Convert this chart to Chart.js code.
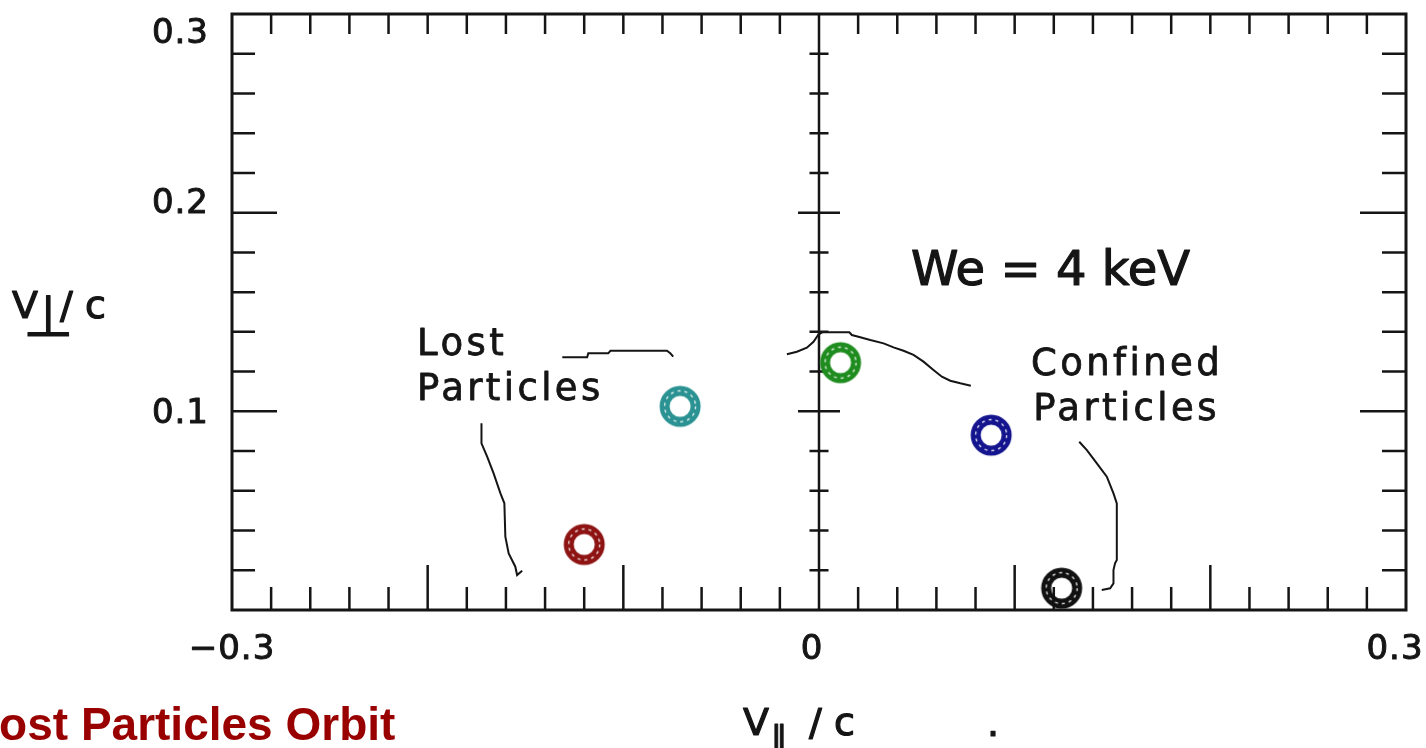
<!DOCTYPE html>
<html>
<head>
<meta charset="utf-8">
<title>Lost Particles Orbit</title>
<script src="https://cdn.jsdelivr.net/npm/chart.js@4.4.1/dist/chart.umd.min.js"></script>
<style>
  html, body { margin: 0; padding: 0; background: #ffffff; }
  #wrap { width: 1426px; height: 748px; position: relative; }
</style>
</head>
<body>
<div id="wrap"><canvas id="chart"></canvas></div>
<script>
// Particle starting points in velocity space (v_parallel / c, v_perp / c)
const particleNames  = ['Lost 1', 'Lost 2', 'Confined 1', 'Confined 2', 'Confined 3'];
const vParallel      = [-0.120, -0.071, 0.011, 0.088, 0.124];
const vPerp          = [0.033, 0.1025, 0.1245, 0.088, 0.011];
const particleColors = ['#8e1414', '#2a9292', '#1f8c1f', '#14148e', '#111111'];

// Axis tick labels
const xTickValues = [-0.3, 0, 0.3];
const xTickLabels = ['\u22120.3', '0', '0.3'];
const yTickValues = [0.1, 0.2, 0.3];
const yTickLabels = ['0.1', '0.2', '0.3'];

// Hand-drawn leader lines from the labels to the particles
const lostLeaderTopX = [-0.1312, -0.1185, -0.1179, -0.1077, -0.1066, -0.0777, -0.0760, -0.0745];
const lostLeaderTopY = [0.1272, 0.1272, 0.1292, 0.1292, 0.1305, 0.1305, 0.1292, 0.1275];
const lostLeaderLowX = [-0.1725, -0.1725, -0.1696, -0.1663, -0.1628, -0.1608, -0.1603, -0.1586, -0.1552, -0.1543, -0.1517];
const lostLeaderLowY = [0.0940, 0.0839, 0.0772, 0.0688, 0.0587, 0.0537, 0.0369, 0.0285, 0.0218, 0.0176, 0.0198];
const confLeaderTopX = [-0.0164, -0.0113, -0.0062, -0.0028, -0.0002, 0.0017, 0.0155, 0.0168, 0.0211, 0.0262, 0.0330, 0.0381, 0.0432, 0.0483, 0.0534, 0.0585, 0.0628, 0.0671, 0.0722, 0.0776];
const confLeaderTopY = [0.1287, 0.1300, 0.1320, 0.1350, 0.1388, 0.1398, 0.1398, 0.1384, 0.1373, 0.1359, 0.1342, 0.1322, 0.1305, 0.1284, 0.1250, 0.1208, 0.1174, 0.1154, 0.1141, 0.1129];
const confLeaderLowX = [0.1330, 0.1369, 0.1420, 0.1471, 0.1505, 0.1522, 0.1522, 0.1513, 0.1505, 0.1505, 0.1488, 0.1445];
const confLeaderLowY = [0.0847, 0.0805, 0.0738, 0.0671, 0.0587, 0.0537, 0.0252, 0.0235, 0.0201, 0.0134, 0.0109, 0.0101];

const INK = '#151515';
const TEXT_FONT = '"DejaVu Sans", Verdana, sans-serif';

function zipXY(xs, ys) { return xs.map((x, i) => ({ x, y: ys[i] })); }

// Ring marker: thick coloured circle with a dotted white core line
function ringMarker(color) {
  const c = document.createElement('canvas');
  c.width = 46; c.height = 46;
  const g = c.getContext('2d');
  g.strokeStyle = color;
  g.lineWidth = 10;
  g.beginPath(); g.arc(23, 23, 15.5, 0, Math.PI * 2); g.stroke();
  g.strokeStyle = 'rgba(255,255,255,0.9)';
  g.lineWidth = 1.3;
  g.setLineDash([3, 4]);
  g.beginPath(); g.arc(23, 23, 15.5, 0, Math.PI * 2); g.stroke();
  return c;
}

function leader(xs, ys) {
  return {
    type: 'line',
    data: zipXY(xs, ys),
    showLine: true,
    borderColor: INK,
    borderWidth: 2,
    tension: 0,
    pointRadius: 0,
    fill: false
  };
}

// Text with a thin outline in the same colour, for a heavier stroke
function heavyText(ctx, text, px, py, weight) {
  ctx.fillText(text, px, py);
  ctx.lineWidth = weight;
  ctx.strokeStyle = ctx.fillStyle;
  ctx.strokeText(text, px, py);
}

// Boxed frame with inward ticks, a centre line at v_parallel = 0, and all labels
const framePlugin = {
  id: 'frame',
  beforeDatasetsDraw(chart) {
    const { ctx, chartArea: a, scales: { x, y } } = chart;
    ctx.save();
    ctx.strokeStyle = INK;
    ctx.lineCap = 'butt';
    ctx.lineWidth = 2.5;
    ctx.beginPath();
    // bottom and top ticks, every 0.02 in v_parallel
    for (let k = -14; k <= 14; k++) {
      const px = x.getPixelForValue(k * 0.02);
      const major = k % 5 === 0;
      ctx.moveTo(px, a.bottom); ctx.lineTo(px, a.bottom - (major ? 45 : 23));
      if (k !== 0) { ctx.moveTo(px, a.top); ctx.lineTo(px, a.top + 20); }
    }
    // left, right and centre ticks, every 0.02 in v_perp
    const cx = x.getPixelForValue(0);
    for (let k = 1; k <= 14; k++) {
      const py = y.getPixelForValue(k * 0.02);
      const major = k % 5 === 0;
      ctx.moveTo(a.left, py); ctx.lineTo(a.left + (major ? 45 : 23), py);
      ctx.moveTo(a.right, py); ctx.lineTo(a.right - (major ? 46 : 24), py);
      const h = major ? 21 : 9.5;
      ctx.moveTo(cx - h, py); ctx.lineTo(cx + h, py);
    }
    ctx.moveTo(cx, a.top); ctx.lineTo(cx, a.bottom);
    ctx.stroke();
    // frame
    ctx.lineWidth = 3;
    ctx.strokeRect(a.left, a.top, a.right - a.left, a.bottom - a.top);
    ctx.restore();
  },
  afterDraw(chart) {
    const { ctx, chartArea: a, scales: { x, y } } = chart;
    ctx.save();
    ctx.fillStyle = INK;
    ctx.textBaseline = 'alphabetic';
    ctx.lineJoin = 'round';

    // tick labels
    ctx.font = '34px ' + TEXT_FONT;
    ctx.letterSpacing = '1px';
    ctx.textAlign = 'center';
    const xNudge = [0, -7, -11];
    xTickValues.forEach((v, i) => {
      heavyText(ctx, xTickLabels[i], x.getPixelForValue(v) + xNudge[i], a.bottom + 49, 1);
    });
    ctx.textAlign = 'right';
    const yNudge = [12, 0, 29];
    yTickValues.forEach((v, i) => {
      heavyText(ctx, yTickLabels[i], a.left - 23, y.getPixelForValue(v) + yNudge[i], 1);
    });

    // annotations inside the plot
    ctx.textAlign = 'left';
    ctx.font = '37px ' + TEXT_FONT;
    ctx.letterSpacing = '3.4px';
    const notes = [
      ['Lost', -0.2054, 0.1284],
      ['Particles', -0.2054, 0.1057],
      ['Confined', 0.1083, 0.1183],
      ['Particles', 0.1095, 0.0956]
    ];
    notes.forEach(([t, vx, vy]) => heavyText(ctx, t, x.getPixelForValue(vx), y.getPixelForValue(vy), 0.8));
    ctx.font = '48px ' + TEXT_FONT;
    ctx.letterSpacing = '0px';
    heavyText(ctx, 'We = 4 keV', x.getPixelForValue(0.0470), y.getPixelForValue(0.1636), 1.2);

    // axis titles
    ctx.font = '38px ' + TEXT_FONT;
    heavyText(ctx, 'V', 12, 318, 1.2);
    heavyText(ctx, '/', 60, 318, 1.2);
    heavyText(ctx, 'c', 85, 318, 1.2);
    ctx.font = '58px ' + TEXT_FONT;
    heavyText(ctx, '\u22A5', 23, 336, 1);

    ctx.font = '38px ' + TEXT_FONT;
    heavyText(ctx, 'V', 743, 735, 1.2);
    heavyText(ctx, '/', 809, 735, 1.2);
    heavyText(ctx, 'c', 834, 735, 1.2);
    heavyText(ctx, '.', 987, 736, 1.2);
    ctx.font = '36px ' + TEXT_FONT;
    heavyText(ctx, '\u2225', 770, 752, 1);

    // caption
    ctx.font = 'bold 46px "Liberation Sans", Arial, sans-serif';
    ctx.fillStyle = '#990000';
    ctx.fillText('Lost Particles Orbit', -29, 740);
    ctx.restore();
  }
};

const chart = new Chart(document.getElementById('chart'), {
  type: 'scatter',
  data: {
    datasets: [
      {
        label: 'Particles',
        data: zipXY(vParallel, vPerp),
        pointStyle: particleColors.map(ringMarker),
        pointRadius: 20,
        showLine: false
      },
      leader(lostLeaderTopX, lostLeaderTopY),
      leader(lostLeaderLowX, lostLeaderLowY),
      leader(confLeaderTopX, confLeaderTopY),
      leader(confLeaderLowX, confLeaderLowY)
    ]
  },
  options: {
    responsive: true,
    maintainAspectRatio: false,
    animation: false,
    events: [],
    layout: { autoPadding: false, padding: { left: 232, top: 14, right: 20, bottom: 138 } },
    plugins: { legend: { display: false }, tooltip: { enabled: false } },
    scales: {
      x: { type: 'linear', min: -0.3, max: 0.3, display: false },
      y: { type: 'linear', min: 0, max: 0.3, display: false }
    }
  },
  plugins: [framePlugin]
});
</script>
</body>
</html>
